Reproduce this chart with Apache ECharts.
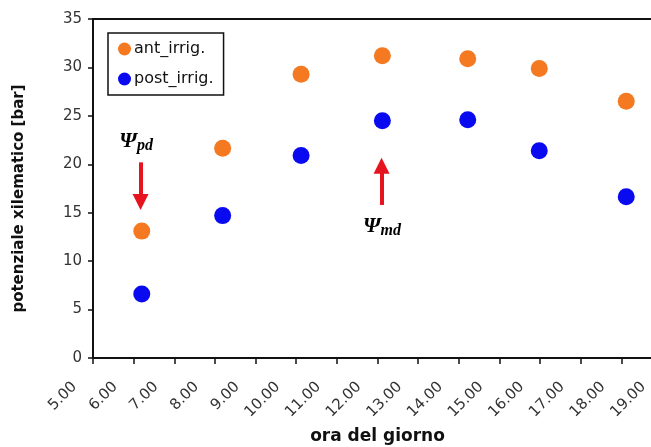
<!DOCTYPE html>
<html>
<head>
<meta charset="utf-8">
<script src="https://cdn.jsdelivr.net/npm/echarts@6/dist/echarts.min.js"></script>
<style>html,body{margin:0;padding:0;background:#fff;}#c{width:651px;height:447px;}</style>
</head>
<body>
<div id="c"></div>
<script>
// data (hour of day, xylem potential [bar])
const hours = [6.2, 8.19, 10.12, 12.12, 14.22, 15.98, 18.12];
const antIrrig = [13.1, 21.65, 29.3, 31.2, 30.9, 29.9, 26.5];
const postIrrig = [6.6, 14.7, 20.9, 24.5, 24.6, 21.4, 16.65];
const seriesNames = ['ant_irrig.', 'post_irrig.'];
const xTicks = [5, 19, 1];   // min, max, interval
const yTicks = [0, 35, 5];
// annotations
const arrowPd = [[6.17, 20.2], [6.17, 16.1]];
const arrowMd = [[12.1, 15.8], [12.1, 19.85]];
const labelPd = [6.06, 22.4];
const labelMd = [12.11, 13.6];

const chart = echarts.init(document.getElementById('c'));
const psiRich = {
  psi: {fontFamily: 'Liberation Serif', fontStyle: 'italic', fontWeight: 'bold', fontSize: 22, color: '#000'},
  sub: {fontFamily: 'Liberation Serif', fontStyle: 'italic', fontWeight: 'bold', fontSize: 16, color: '#000', padding: [10, 0, 0, 0]}
};
const arrowStyle = {color: '#E5141E', width: 4, type: 'solid', opacity: 1};
chart.setOption({
  animation: false,
  grid: {left: 93, top: 19, width: 569, bottom: 89, show: true, borderColor: '#111', borderWidth: 2,
    containLabel: false, outerBoundsMode: 'none'},
  legend: {
    orient: 'vertical', left: 108, top: 33,
    data: seriesNames,
    icon: 'circle', itemWidth: 13, itemHeight: 13, itemGap: 14,
    padding: [8, 10, 8, 10],
    borderColor: '#111', borderWidth: 1.5,
    textStyle: {fontFamily: 'DejaVu Sans', fontSize: 16, color: '#111', padding: [0, 0, 0, -2]}
  },
  xAxis: {
    type: 'value', min: xTicks[0], max: xTicks[1], interval: xTicks[2],
    name: 'ora del giorno', nameLocation: 'middle', nameGap: 70,
    nameTextStyle: {fontFamily: 'DejaVu Sans', fontWeight: 'bold', fontSize: 17, color: '#111'},
    splitLine: {show: false},
    axisLine: {onZero: false, lineStyle: {color: '#111', width: 2}},
    axisTick: {show: true, length: 6, lineStyle: {color: '#111', width: 1.5}},
    axisLabel: {rotate: 45, margin: 8, padding: [0, 26, 0, 0], fontFamily: 'DejaVu Sans', fontSize: 15, color: '#333',
      formatter: v => v.toFixed(2), showMaxLabel: true, showMinLabel: true}
  },
  yAxis: {
    type: 'value', min: yTicks[0], max: yTicks[1], interval: yTicks[2],
    name: 'potenziale xilematico [bar]', nameLocation: 'middle', nameGap: 66,
    nameTextStyle: {fontFamily: 'DejaVu Sans', fontWeight: 'bold', fontSize: 15, color: '#111', padding: [0, 20, 0, 0]},
    splitLine: {show: false},
    axisLine: {show: true, lineStyle: {color: '#111', width: 2}},
    axisTick: {show: true, length: 5, lineStyle: {color: '#111', width: 1.5}},
    axisLabel: {margin: 11, fontFamily: 'DejaVu Sans', fontSize: 15, color: '#333'}
  },
  series: [
    {
      name: seriesNames[0], type: 'scatter', symbolSize: 17,
      itemStyle: {color: '#F47920', opacity: 1},
      data: hours.map((h, i) => [h, antIrrig[i]]),
      markLine: {
        silent: true, symbol: ['none', 'triangle'], symbolSize: 16,
        lineStyle: arrowStyle, label: {show: false},
        emphasis: {disabled: true},
        data: [
          [{coord: arrowPd[0]}, {coord: arrowPd[1]}],
          [{coord: arrowMd[0]}, {coord: arrowMd[1]}]
        ]
      },
      markPoint: {
        silent: true, symbol: 'circle', symbolSize: 1,
        itemStyle: {color: 'rgba(0,0,0,0)'},
        label: {show: true, position: 'inside', rich: psiRich},
        data: [
          {coord: labelPd, label: {formatter: '{psi|Ψ}{sub|pd}'}},
          {coord: labelMd, label: {formatter: '{psi|Ψ}{sub|md}'}}
        ]
      }
    },
    {
      name: seriesNames[1], type: 'scatter', symbolSize: 17,
      itemStyle: {color: '#0A0AF0', opacity: 1},
      data: hours.map((h, i) => [h, postIrrig[i]])
    }
  ]
});
</script>
</body>
</html>
